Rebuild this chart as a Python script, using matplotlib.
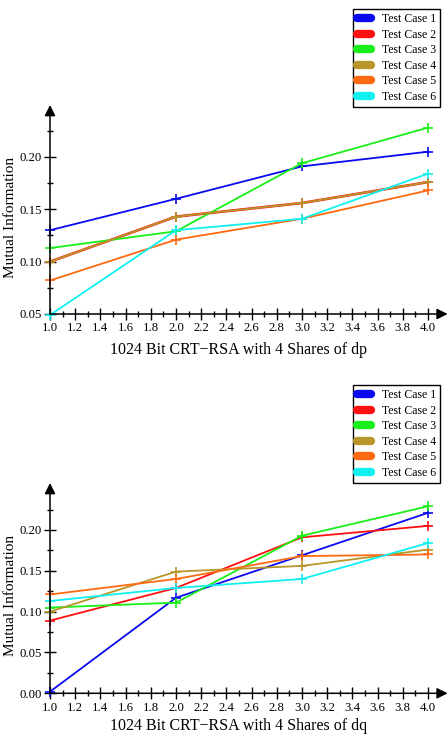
import matplotlib
matplotlib.use('Agg')
import matplotlib.pyplot as plt
from matplotlib.lines import Line2D
from matplotlib.ticker import MultipleLocator, FormatStrFormatter

plt.rcParams['font.family'] = ['Liberation Serif', 'DejaVu Serif']

x = [1.0, 2.0, 3.0, 4.0]
names = ['Test Case 1', 'Test Case 2', 'Test Case 3', 'Test Case 4', 'Test Case 5', 'Test Case 6']
colors = ['#0a0af0', '#ff1010', '#19f019', '#b8962a', '#ff6a10', '#10f0f0']

# shares of dp (Test Case 2 lies under Test Case 4)
dp_tc1 = [0.130, 0.160, 0.191, 0.205]
dp_tc2 = [0.100, 0.143, 0.156, 0.176]
dp_tc3 = [0.113, 0.129, 0.194, 0.228]
dp_tc4 = [0.100, 0.143, 0.156, 0.176]
dp_tc5 = [0.082, 0.121, 0.141, 0.168]
dp_tc6 = [0.049, 0.130, 0.141, 0.184]

# shares of dq
dq_tc1 = [0.002, 0.117, 0.169, 0.221]
dq_tc2 = [0.089, 0.129, 0.191, 0.205]
dq_tc3 = [0.105, 0.111, 0.193, 0.229]
dq_tc4 = [0.100, 0.149, 0.156, 0.176]
dq_tc5 = [0.121, 0.140, 0.168, 0.170]
dq_tc6 = [0.113, 0.129, 0.140, 0.184]

dp = [dp_tc1, dp_tc2, dp_tc3, dp_tc4, dp_tc5, dp_tc6]
dq = [dq_tc1, dq_tc2, dq_tc3, dq_tc4, dq_tc5, dq_tc6]

fig = plt.figure(figsize=(4.47, 7.36), dpi=100)
# axes placed so that data y-values land where the reference has them
ax1 = fig.add_axes([50/447, 1-314/736, 378/447, 193.7/736])
ax2 = fig.add_axes([50/447, 1-693.3/736, 378/447, 196/736])


def draw(ax, data, ylim, ytop, xlabel, xlab_off, legend_top):
    for i, ys in enumerate(data):
        lw = 1.9 if i == 1 and data is dp else 1.3
        ax.plot(x, ys, color=colors[i], lw=lw, marker='+', ms=7.5, mew=1.2,
                clip_on=False, zorder=3)
    ax.set_xlim(1.0, 4.0)
    ax.set_ylim(*ylim)
    for s in ax.spines.values():
        s.set_visible(False)
    ax.annotate('', xy=(1.052, 0), xytext=(0, 0), xycoords='axes fraction',
                arrowprops=dict(arrowstyle='-|>', color='black', lw=1.1,
                                mutation_scale=16, shrinkA=0, shrinkB=0))
    ax.annotate('', xy=(0, ytop), xytext=(0, 0), xycoords='axes fraction',
                arrowprops=dict(arrowstyle='-|>', color='black', lw=1.1,
                                mutation_scale=16, shrinkA=0, shrinkB=0))
    ax.xaxis.set_major_locator(MultipleLocator(0.2))
    ax.xaxis.set_minor_locator(MultipleLocator(0.1))
    ax.xaxis.set_major_formatter(FormatStrFormatter('%.1f'))
    ax.yaxis.set_major_locator(MultipleLocator(0.05))
    ax.yaxis.set_minor_locator(MultipleLocator(0.025))
    ax.yaxis.set_major_formatter(FormatStrFormatter('%.2f'))
    ax.tick_params(which='major', direction='inout', length=8, width=1, labelsize=9.2, pad=2)
    ax.tick_params(which='minor', direction='inout', length=5, width=1)
    ax.tick_params(top=False, right=False)
    ax.set_xlabel(xlabel, fontsize=11.5, va='center')
    ax.set_ylabel('Mutual Information', fontsize=11, va='center')
    h = ax.get_position().height * 736
    ax.xaxis.set_label_coords(0.5, -xlab_off / h)
    ax.yaxis.set_label_coords(-39/378, 0.5)
    handles = [Line2D([], [], color=c, lw=6, solid_capstyle='round') for c in colors]
    ax.legend(handles, names, loc='upper right', bbox_to_anchor=(440/447, legend_top),
              bbox_transform=fig.transFigure, fancybox=False, framealpha=1,
              edgecolor='black', fontsize=8.5, handlelength=1.2, handletextpad=0.9,
              labelspacing=0.3, borderpad=0.35, borderaxespad=0)
    ax.get_legend().get_frame().set_linewidth(1.0)


draw(ax1, dp, (0.05, 0.235), 1.079, '1024 Bit CRT\u2212RSA with 4 Shares of dp', 36, 1-9/736)
draw(ax2, dq, (0.0, 0.24), 1.073, '1024 Bit CRT\u2212RSA with 4 Shares of dq', 33, 1-385/736)

fig.savefig('out.png', dpi=100)
